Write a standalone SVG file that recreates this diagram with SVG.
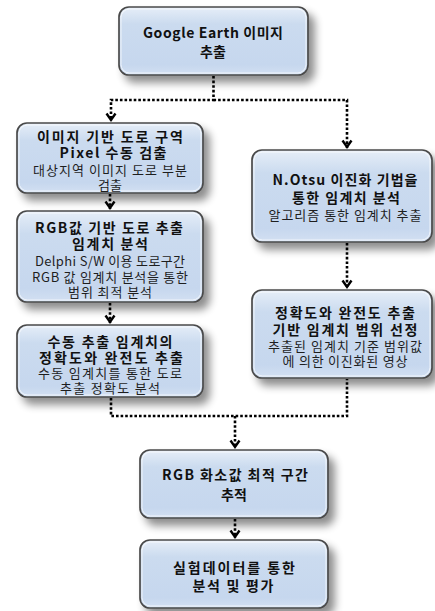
<svg xmlns="http://www.w3.org/2000/svg" width="435" height="611" viewBox="0 0 435 611">
<defs>
<linearGradient id="boxfill" x1="0" y1="0" x2="0" y2="1">
<stop offset="0" stop-color="#e6eef8"/>
<stop offset="0.25" stop-color="#cbdbef"/>
<stop offset="0.85" stop-color="#c6d7ee"/>
<stop offset="1" stop-color="#d3e0f2"/>
</linearGradient>
<filter id="shadow" x="-20%" y="-20%" width="150%" height="150%">
<feGaussianBlur in="SourceAlpha" stdDeviation="4"/>
<feOffset dx="6" dy="7" result="b"/>
<feComponentTransfer><feFuncA type="linear" slope="0.45"/></feComponentTransfer>
<feMerge><feMergeNode/><feMergeNode in="SourceGraphic"/></feMerge>
</filter>
<marker id="arr" markerUnits="userSpaceOnUse" markerWidth="14" markerHeight="14" refX="1" refY="0" viewBox="-8 -7 10 14" orient="auto" overflow="visible">
<path d="M-6.5,-4.5 L0,0 L-6.5,4.5" fill="none" stroke="#000" stroke-width="2.4" stroke-linejoin="miter"/>
</marker>
</defs>
<style>
.box{fill:url(#boxfill);stroke:#4a4a4a;stroke-width:1.7;filter:url(#shadow)}
.hl{fill:none;stroke:#ffffff;stroke-opacity:0.7;stroke-width:1}
.b{font-family:"Noto Sans CJK KR","Noto Sans",sans-serif;font-weight:bold;font-size:14px;fill:#111;text-anchor:middle}
.r{font-family:"Noto Sans CJK KR","Noto Sans",sans-serif;font-size:13px;fill:#1e1e1e;text-anchor:middle}
.c{fill:none;stroke:#000;stroke-width:2.6;stroke-dasharray:2.6 2}
</style>
<rect width="435" height="611" fill="#ffffff"/>
<g id="connectors">
<path class="c" d="M213.5,76 V100 H111 V121" marker-end="url(#arr)"/>
<path class="c" d="M213.5,100 H347 V148" marker-end="url(#arr)"/>
<path class="c" d="M110,194 V209" marker-end="url(#arr)"/>
<path class="c" d="M110,303 V323" marker-end="url(#arr)"/>
<path class="c" d="M347,243 V288" marker-end="url(#arr)"/>
<path class="c" d="M111,398 V416 H347 V379"/>
<path class="c" d="M235,416 V448" marker-end="url(#arr)"/>
<path class="c" d="M235,519 V538" marker-end="url(#arr)"/>
</g>
<g id="n1">
<rect class="box" x="119" y="7" width="189" height="68" rx="10"/>
<rect class="hl" x="121" y="9" width="185" height="64" rx="8.5"/>
<text class="b" x="213" y="38" textLength="140" lengthAdjust="spacing">Google Earth 이미지</text>
<text class="b" x="213" y="57">추출</text>
</g>
<g id="n2">
<rect class="box" x="17" y="123" width="186" height="70" rx="10"/>
<rect class="hl" x="19" y="125" width="182" height="66" rx="8.5"/>
<text class="b" x="110" y="142" textLength="146" lengthAdjust="spacing">이미지 기반 도로 구역</text>
<text class="b" x="113" y="158" textLength="107" lengthAdjust="spacing">Pixel 수동 검출</text>
<text class="r" x="110" y="175" textLength="154" lengthAdjust="spacing">대상지역 이미지 도로 부분</text>
<text class="r" x="110" y="190">검출</text>
</g>
<g id="n3">
<rect class="box" x="17" y="211" width="186" height="91" rx="10"/>
<rect class="hl" x="19" y="213" width="182" height="87" rx="8.5"/>
<text class="b" x="109" y="233" textLength="148" lengthAdjust="spacing">RGB값 기반 도로 추출</text>
<text class="b" x="110" y="249" textLength="76" lengthAdjust="spacing">임계치 분석</text>
<text class="r" x="110" y="266" textLength="150" lengthAdjust="spacing">Delphi S/W 이용 도로구간</text>
<text class="r" x="110" y="282" textLength="156" lengthAdjust="spacing">RGB 값 임계치 분석을 통한</text>
<text class="r" x="110" y="297" textLength="84" lengthAdjust="spacing">범위 최적 분석</text>
</g>
<g id="n4">
<rect class="box" x="17" y="325" width="186" height="72" rx="10"/>
<rect class="hl" x="19" y="327" width="182" height="68" rx="8.5"/>
<text class="b" x="110" y="347" textLength="125" lengthAdjust="spacing">수동 추출 임계치의</text>
<text class="b" x="111" y="363" textLength="144" lengthAdjust="spacing">정확도와 완전도 추출</text>
<text class="r" x="110" y="378" textLength="144" lengthAdjust="spacing">수동 임계치를 통한 도로</text>
<text class="r" x="110" y="393" textLength="100" lengthAdjust="spacing">추출 정확도 분석</text>
</g>
<g id="n5">
<rect class="box" x="252" y="150" width="180" height="92" rx="10"/>
<rect class="hl" x="254" y="152" width="176" height="88" rx="8.5"/>
<text class="b" x="345" y="185" textLength="145" lengthAdjust="spacing">N.Otsu 이진화 기법을</text>
<text class="b" x="346" y="203" textLength="108" lengthAdjust="spacing">통한 임계치 분석</text>
<text class="r" x="345" y="220" textLength="153" lengthAdjust="spacing">알고리즘 통한 임계치 추출</text>
</g>
<g id="n6">
<rect class="box" x="252" y="290" width="180" height="88" rx="10"/>
<rect class="hl" x="254" y="292" width="176" height="84" rx="8.5"/>
<text class="b" x="345" y="318" textLength="140" lengthAdjust="spacing">정확도와 완전도 추출</text>
<text class="b" x="345" y="335" textLength="145" lengthAdjust="spacing">기반 임계치 범위 선정</text>
<text class="r" x="345" y="351" textLength="154" lengthAdjust="spacing">추출된 임계치 기준 범위값</text>
<text class="r" x="345" y="366" textLength="125" lengthAdjust="spacing">에 의한 이진화된 영상</text>
</g>
<g id="n7">
<rect class="box" x="140" y="450" width="188" height="68" rx="10"/>
<rect class="hl" x="142" y="452" width="184" height="64" rx="8.5"/>
<text class="b" x="235" y="480" textLength="146" lengthAdjust="spacing">RGB 화소값 최적 구간</text>
<text class="b" x="234" y="500">추적</text>
</g>
<g id="n8">
<rect class="box" x="140" y="540" width="188" height="68" rx="10"/>
<rect class="hl" x="142" y="542" width="184" height="64" rx="8.5"/>
<text class="b" x="234" y="573" textLength="122" lengthAdjust="spacing">실험데이터를 통한</text>
<text class="b" x="233" y="591" textLength="81" lengthAdjust="spacing">분석 및 평가</text>
</g>
</svg>
